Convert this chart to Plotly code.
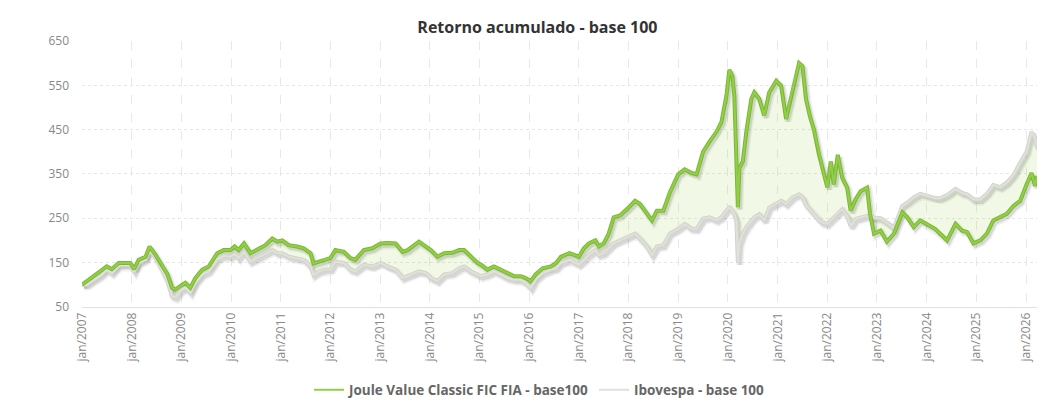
import datetime as dt
import plotly.graph_objects as go

# ---- data ----
years = [
    2007.00, 2007.10, 2007.23, 2007.37, 2007.50, 2007.60, 2007.74, 2007.87, 2007.97,
    2008.05, 2008.14, 2008.28, 2008.36, 2008.48, 2008.61, 2008.72, 2008.81, 2008.88, 2008.98,
    2009.08, 2009.18, 2009.28, 2009.42, 2009.55, 2009.72, 2009.85, 2009.99,
    2010.07, 2010.15, 2010.26, 2010.39, 2010.52, 2010.69, 2010.83, 2010.93,
    2011.03, 2011.16, 2011.33, 2011.46, 2011.60, 2011.66, 2011.77, 2011.90,
    2012.00, 2012.10, 2012.27, 2012.40, 2012.50, 2012.67, 2012.84,
    2013.01, 2013.14, 2013.31, 2013.45, 2013.55, 2013.68, 2013.78, 2013.92,
    2014.02, 2014.15, 2014.29, 2014.45, 2014.59, 2014.69, 2014.82, 2014.96,
    2015.03, 2015.16, 2015.29, 2015.43, 2015.56, 2015.70, 2015.83, 2015.93,
    2016.03, 2016.13, 2016.27, 2016.44, 2016.54, 2016.64, 2016.81,
    2017.00, 2017.10, 2017.20, 2017.33, 2017.40, 2017.50, 2017.60, 2017.70, 2017.83,
    2018.00, 2018.13, 2018.23, 2018.37, 2018.47, 2018.57, 2018.70, 2018.83,
    2019.00, 2019.13, 2019.27, 2019.37, 2019.50, 2019.63, 2019.77, 2019.87, 2019.97,
    2020.03, 2020.09, 2020.13, 2020.17, 2020.20, 2020.23, 2020.30, 2020.37, 2020.47,
    2020.53, 2020.63, 2020.73, 2020.83, 2020.97,
    2021.07, 2021.17, 2021.30, 2021.43, 2021.50, 2021.57, 2021.65, 2021.73, 2021.83, 2021.90,
    2022.00, 2022.07, 2022.13, 2022.21, 2022.30, 2022.40, 2022.47, 2022.57, 2022.67, 2022.80,
    2022.86, 2022.94,
    2023.07, 2023.20, 2023.34, 2023.51, 2023.61, 2023.74, 2023.87,
    2024.04, 2024.17, 2024.27, 2024.41, 2024.58, 2024.71, 2024.81, 2024.94,
    2025.08, 2025.21, 2025.34, 2025.48, 2025.61, 2025.75, 2025.88,
    2026.01, 2026.11, 2026.18, 2026.22,
]

joule = [
    100, 108, 119, 130, 141, 135, 149, 149, 149,
    135, 156, 163, 186, 167, 145, 123, 93, 89, 97,
    104, 93, 115, 134, 141, 171, 178, 178,
    186, 178, 193, 171, 178, 189, 204, 197,
    200, 189, 186, 182, 171, 148, 152, 157,
    160, 178, 174, 160, 156, 178, 182,
    193, 194, 193, 174, 178, 189, 197, 186,
    178, 163, 171, 172, 178, 178, 163, 149,
    145, 134, 141, 134, 126, 119, 119, 115,
    108, 123, 137, 141, 149, 163, 171,
    163, 182, 193, 200, 186, 193, 215, 252, 256,
    274, 289, 282, 259, 245, 267, 267, 308,
    349, 360, 352, 349, 400, 423, 445, 467, 526,
    585, 571, 526, 408, 275, 363, 378, 445, 519,
    534, 519, 482, 534, 560,
    549, 474, 541, 600, 593, 519, 480, 450, 395, 363,
    320, 378, 326, 393, 341, 319, 267, 293, 311, 319,
    260, 215,
    222, 197, 215, 263, 252, 230, 245,
    234, 226, 215, 200, 237, 222, 219, 193,
    200, 215, 245, 252, 260, 278, 289,
    326, 352, 323, 345,
]

ibov = [
    100, 100, 110, 120, 134, 126, 143, 145, 143,
    130, 149, 157, 178, 160, 134, 108, 74, 71, 86,
    93, 82, 104, 123, 130, 157, 165, 163,
    169, 160, 174, 152, 160, 169, 178, 171,
    171, 163, 160, 156, 141, 122, 130, 134,
    134, 152, 149, 134, 130, 145, 141,
    149, 141, 134, 115, 119, 126, 130, 126,
    115, 108, 123, 126, 137, 141, 130, 123,
    119, 123, 130, 123, 115, 111, 111, 104,
    92, 112, 126, 134, 137, 149, 156,
    145, 156, 167, 178, 167, 171, 182, 193, 200,
    208, 215, 204, 186, 167, 186, 189, 215,
    226, 237, 226, 226, 249, 252, 245, 252, 267,
    274, 267, 259, 245, 150, 193, 215, 230, 245,
    252, 259, 245, 274, 282,
    289, 282, 297, 304, 297, 280, 270, 258, 245, 240,
    237, 245, 252, 262, 270, 255, 232, 248, 252, 255,
    252, 252,
    250, 240, 228, 278, 285, 297, 305,
    300, 295, 295, 302, 316, 307, 304, 292,
    292, 305, 325, 320, 330, 348, 375,
    400, 445, 430, 410,
]

tick_years = list(range(2007, 2027))
tick_labels = [
    "jan/2007", "jan/2008", "jan/2009", "jan/2010", "jan/2011", "jan/2012", "jan/2013",
    "jan/2014", "jan/2015", "jan/2016", "jan/2017", "jan/2018", "jan/2019", "jan/2020",
    "jan/2021", "jan/2022", "jan/2023", "jan/2024", "jan/2025", "jan/2026",
]
y_ticks = [50, 150, 250, 350, 450, 550, 650]

name_joule = "Joule Value Classic FIC FIA - base100"
name_ibov = "Ibovespa - base 100"


def to_date(y):
    yr = int(y)
    start = dt.datetime(yr, 1, 1)
    ndays = (dt.datetime(yr + 1, 1, 1) - start).days
    return start + dt.timedelta(days=(y - yr) * ndays)


dates = [to_date(y) for y in years]
tick_vals = [dt.datetime(y, 1, 1) for y in tick_years]

x_start = dt.datetime(2007, 1, 1)
x_end = dates[-1]
y_range = [50, 650]

# shadow offset: ~2px right, ~2.5px down
sh_dx = dt.timedelta(days=14)
sh_dy = 5.5

FONT = "Open Sans"
GREEN_EDGE = "#7ab92c"
GREEN_CORE = "#93cd4c"
GRAY_EDGE = "#d2d4cb"
GRAY_CORE = "#e0e1da"

fig = go.Figure()

# fill between the two series (base subplot)
fig.add_trace(go.Scatter(x=dates, y=ibov, mode="lines", line=dict(width=0, color=GRAY_EDGE),
                         showlegend=False, hoverinfo="skip", xaxis="x", yaxis="y"))
fig.add_trace(go.Scatter(x=dates, y=joule, mode="lines", line=dict(width=0, color=GREEN_EDGE),
                         fill="tonexty", fillcolor="rgba(160,212,90,0.15)",
                         showlegend=False, hoverinfo="skip", xaxis="x", yaxis="y"))

# shadows (overlay subplot, shifted)
for s in (ibov, joule):
    fig.add_trace(go.Scatter(x=dates, y=s, mode="lines",
                             line=dict(width=7, color="rgba(0,0,0,0.06)"),
                             showlegend=False, hoverinfo="skip", xaxis="x2", yaxis="y2"))
    fig.add_trace(go.Scatter(x=dates, y=s, mode="lines",
                             line=dict(width=4, color="rgba(0,0,0,0.10)"),
                             showlegend=False, hoverinfo="skip", xaxis="x2", yaxis="y2"))

# real lines (overlay subplot, same scale as base)
fig.add_trace(go.Scatter(x=dates, y=ibov, mode="lines", line=dict(width=4, color=GRAY_EDGE),
                         showlegend=False, hoverinfo="skip", xaxis="x3", yaxis="y3"))
fig.add_trace(go.Scatter(x=dates, y=ibov, mode="lines", name=name_ibov,
                         line=dict(width=2, color=GRAY_CORE), xaxis="x3", yaxis="y3",
                         legendrank=2))
fig.add_trace(go.Scatter(x=dates, y=joule, mode="lines", line=dict(width=4, color=GREEN_EDGE),
                         showlegend=False, hoverinfo="skip", xaxis="x3", yaxis="y3"))
fig.add_trace(go.Scatter(x=dates, y=joule, mode="lines", name=name_joule,
                         line=dict(width=2, color=GREEN_CORE), xaxis="x3", yaxis="y3",
                         legendrank=1))

fig.update_layout(
    width=1060, height=409,
    margin=dict(l=82, r=23, t=41, b=98),
    paper_bgcolor="white", plot_bgcolor="white",
    font=dict(family=FONT, size=12, color="#888"),
    title=dict(text="Retorno acumulado - base 100", x=0.507, xref="container", xanchor="center",
               y=1 - 27 / 409, yref="container", yanchor="middle",
               font=dict(family=FONT, size=16, color="#333", weight=700)),
    xaxis=dict(type="date", range=[x_start, x_end], tickvals=tick_vals, ticktext=tick_labels,
               tickangle=-90, showgrid=True, gridcolor="#e8e8e8", griddash="dash", gridwidth=1,
               showline=True, linecolor="#e0e0e0", linewidth=1, zeroline=False,
               tickfont=dict(family=FONT, size=12, color="#888"), ticks=""),
    yaxis=dict(range=y_range, tickvals=y_ticks, showgrid=True, gridcolor="#e6e6e6",
               griddash="dot", gridwidth=1, zeroline=False, showline=False,
               tickfont=dict(family=FONT, size=12, color="#888"), ticklabelstandoff=12),
    xaxis2=dict(type="date", overlaying="x", visible=False,
                range=[x_start - sh_dx, x_end - sh_dx]),
    yaxis2=dict(overlaying="y", visible=False, range=[y_range[0] + sh_dy, y_range[1] + sh_dy]),
    xaxis3=dict(type="date", overlaying="x", visible=False, range=[x_start, x_end]),
    yaxis3=dict(overlaying="y", visible=False, range=y_range),
    legend=dict(orientation="h", x=0.509, xref="container", xanchor="center",
                y=1 - 390 / 409, yref="container", yanchor="middle", traceorder="normal",
                font=dict(family=FONT, size=13.5, color="#666", weight=700),
                itemwidth=30, bgcolor="rgba(0,0,0,0)"),
    showlegend=True,
)

fig.write_html("out.html", config={"displayModeBar": False},
               post_script="document.body.style.margin='0';")
